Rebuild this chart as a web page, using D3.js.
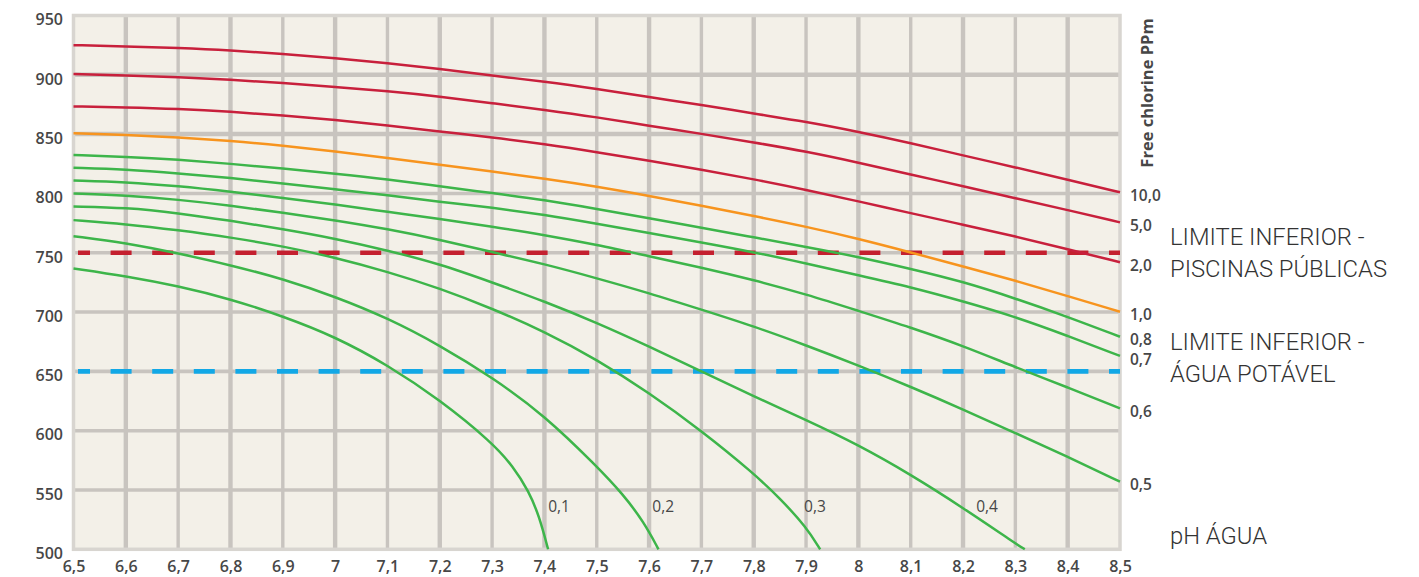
<!DOCTYPE html>
<html><head><meta charset="utf-8">
<script src="https://cdn.jsdelivr.net/npm/d3@7"></script>
<style>html,body{margin:0;padding:0;background:#fff;} svg{display:block}</style>
</head><body><svg id="c" width="1419" height="577"></svg>
<script>
// ---- data ----
const phTicks = [6.5,6.6,6.7,6.8,6.9,7.0,7.1,7.2,7.3,7.4,7.5,7.6,7.7,7.8,7.9,8.0,8.1,8.2,8.3,8.4,8.5];
const phTickLabels = ["6,5","6,6","6,7","6,8","6,9","7","7,1","7,2","7,3","7,4","7,5","7,6","7,7","7,8","7,9","8","8,1","8,2","8,3","8,4","8,5"];
const orpTicks = [500,550,600,650,700,750,800,850,900,950];

const phFull = [6.5,6.6,6.7,6.8,6.9,7.0,7.1,7.2,7.3,7.4,7.5,7.6,7.7,7.8,7.9,8.0,8.1,8.2,8.3,8.4,8.5];
const mv10 = [925,924,922.7,920.7,917.6,914.2,909.8,905,899.2,894.4,888.2,881.2,874.7,867.3,860.5,852,842.5,832,822,811.5,801];
const mv5  = [900.6,899.5,898.1,895.9,893.1,889.7,886.3,881.7,876.1,870.5,864.3,857,850.3,843,835.4,826,816,806,796,786,775.6];
const mv2  = [873.3,872.6,871.3,869,865.7,862,857.5,852.2,847.2,841.6,834.8,827.5,820,812,803.1,793.3,783.4,773.6,763.8,752.9,742];
const mv1  = [850.8,849.5,847.3,844.3,840.3,835.5,830,824.2,818.5,812.6,805.9,798,789.6,781,772,761.8,750.3,738.5,726.5,713.5,700.3];
const mv08 = [832.4,831,828.5,825,821,816.7,812,806,800.3,794.5,787,779.2,771,763,755,746.5,736.5,725.6,711.5,696,679.2];
const mv07 = [821.7,820.3,817,813,808.5,803.5,798.5,793,788,782,774.4,766.6,758.7,750.5,741,731,721,709,696,680,663];
const mv06 = [811,809.6,806.2,801.5,796.3,790.7,784.5,778.5,772,765,756.7,747,737.5,727,715,701,687,671.5,653.5,636.5,618.8];
const mv05 = [800,798.4,794.8,789.8,783.8,777.4,770,761,750.5,740.5,728.5,716,702,688,672,655,637,618,598,578,557];
const ph04 = [6.5,6.6,6.7,6.8,6.9,7.0,7.1,7.2,7.3,7.4,7.5,7.6,7.7,7.8,7.9,8.0,8.1,8.2,8.3,8.318];
const mv04 = [789,788,783.5,777,770,762,752,740.5,725,709,691,671,650,629,609,588,563,535,505,500];
const ph03 = [6.5,6.6,6.7,6.8,6.9,7.0,7.1,7.2,7.3,7.4,7.5,7.6,7.7,7.8,7.85,7.9,7.927];
const mv03 = [777.5,774.2,769,763,755.5,746,734,720,703,683.5,660,632,600,564,543,519,500];
const ph02 = [6.5,6.6,6.7,6.8,6.9,7.0,7.1,7.2,7.3,7.4,7.5,7.55,7.59,7.618];
const mv02 = [764,758.4,749.5,739.6,728,713,695,672,645,613,570,546.5,523,500];
const ph01 = [6.5,6.6,6.7,6.8,6.9,7.0,7.1,7.2,7.3,7.34,7.37,7.39,7.407];
const mv01 = [736.8,730.3,721.9,711,696.5,679.2,655.5,626,590,570,549,528,500];

const rightLabels = ["10,0","5,0","2,0","1,0","0,8","0,7","0,6","0,5"];
const bottomLabels = ["0,1","0,2","0,3","0,4"];
const limitPublic = 750, limitDrinking = 650;
const axisTitle = "Free chlorine PPm";
const notePublic = ["LIMITE INFERIOR -","PISCINAS PÚBLICAS"];
const noteDrinking = ["LIMITE INFERIOR -","ÁGUA POTÁVEL"];
const notePh = "pH ÁGUA";

// ---- drawing ----
const svg = d3.select("#c");
const x = d3.scaleLinear().domain([6.5,8.5]).range([73.5,1120]);
const y = d3.scaleLinear().domain([500,950]).range([549.3,15.5]);

const RED="#c8203c", ORANGE="#f7941e", GREEN="#3db54a";
const GRID="#c8c4bf";
const TXT="#474747";

svg.append("rect").attr("x",x(6.5)).attr("y",y(950)).attr("width",x(8.5)-x(6.5)).attr("height",y(500)-y(950))
  .attr("fill","#f3f0e8");

// grid
svg.append("g").selectAll("line").data(orpTicks.filter(d=>d>500&&d<950)).join("line")
  .attr("x1",x(6.5)).attr("x2",x(8.5)).attr("y1",d=>y(d)).attr("y2",d=>y(d))
  .attr("stroke",GRID).attr("stroke-width",d=>(d===850||d===900)?4.5:3.6);
svg.append("g").selectAll("line").data(phTicks.slice(1,-1)).join("line")
  .attr("y1",y(950)).attr("y2",y(500)).attr("x1",d=>x(d)).attr("x2",d=>x(d))
  .attr("stroke",GRID).attr("stroke-width",(d,i)=>i%2===0?4.4:3.4);
// frame
svg.append("rect").attr("x",x(6.5)).attr("y",y(950)).attr("width",x(8.5)-x(6.5)).attr("height",y(500)-y(950))
  .attr("fill","none").attr("stroke","#d8d5d0").attr("stroke-width",3.5);

// dashed limits
function dashed(v,color){
  svg.append("line").attr("x1",78).attr("x2",x(8.5)).attr("y1",y(v)).attr("y2",y(v))
    .attr("stroke",color).attr("stroke-width",4.6).attr("stroke-dasharray","21,20.6").attr("stroke-dashoffset",9);
}
dashed(limitPublic,"#c4202f");
dashed(limitDrinking,"#12a8e6");

// curves
const line = d3.line().x(d=>x(d[0])).y(d=>y(d[1])).curve(d3.curveBasis);
const series = [
  [phFull,mv10,RED],[phFull,mv5,RED],[phFull,mv2,RED],[phFull,mv1,ORANGE],
  [phFull,mv08,GREEN],[phFull,mv07,GREEN],[phFull,mv06,GREEN],[phFull,mv05,GREEN],
  [ph04,mv04,GREEN],[ph03,mv03,GREEN],[ph02,mv02,GREEN],[ph01,mv01,GREEN]
];
const cg = svg.append("g").attr("fill","none").attr("stroke-width",2.5);
series.forEach(([px,py,col])=>{
  cg.append("path").attr("d",line(px.map((p,i)=>[p,py[i]]))).attr("stroke",col);
});

// axes
const font = "'Open Sans', 'DejaVu Sans', sans-serif";
const xAxis = d3.axisBottom(x).tickValues(phTicks).tickFormat((d,i)=>phTickLabels[i]).tickSize(0).tickPadding(11.5);
const gx = svg.append("g").attr("transform",`translate(0,${y(500)})`).call(xAxis);
const yAxis = d3.axisLeft(y).tickValues(orpTicks).tickSize(0).tickPadding(10.5);
const gy = svg.append("g").attr("transform",`translate(${x(6.5)},0)`).call(yAxis);
[gx,gy].forEach(g=>{
  g.select(".domain").remove();
  g.selectAll("text").attr("fill",TXT).style("font-family",font).style("font-size","16px").style("font-weight","600");
});
gy.selectAll("text").attr("dy","0.58em");

// right-end labels
const endSeries = series.slice(0,8);
svg.append("g").selectAll("text").data(rightLabels).join("text")
  .attr("x",1130).attr("y",(d,i)=>y(endSeries[i][1][endSeries[i][1].length-1])+3)
  .attr("dy","0.36em").text(d=>d)
  .attr("fill",TXT).style("font-family",font).style("font-size","15.5px").style("font-weight","600");

// bottom labels next to the curves that fall off the chart
const bottomSeries = [[ph01,7.428],[ph02,7.627],[ph03,7.917],[ph04,8.246]];
svg.append("g").selectAll("text").data(bottomLabels).join("text")
  .attr("x",(d,i)=>x(bottomSeries[i][1])).attr("y",y(536)).attr("dy","0.36em")
  .attr("text-anchor","middle").text(d=>d)
  .attr("fill",TXT).style("font-family",font).style("font-size","15.5px").style("font-weight","400");

// axis title (rotated)
svg.append("text").attr("transform","translate(1153,93) rotate(-90)").attr("text-anchor","middle")
  .text(axisTitle).attr("fill",TXT).style("font-family",font).style("font-size","16.5px").style("font-weight","700");

// notes
const nfont = "Roboto, sans-serif";
function note(lines, yc){
  lines.forEach((t,i)=>{
    svg.append("text").attr("x",1170).attr("y",yc[i]).attr("dy","0.36em").text(t)
      .attr("fill","#333").style("font-family",nfont).style("font-size","23.8px").style("font-weight","300");
  });
}
note(notePublic,[236,268]);
note(noteDrinking,[341,373]);
note([notePh],[535]);
</script></body></html>
